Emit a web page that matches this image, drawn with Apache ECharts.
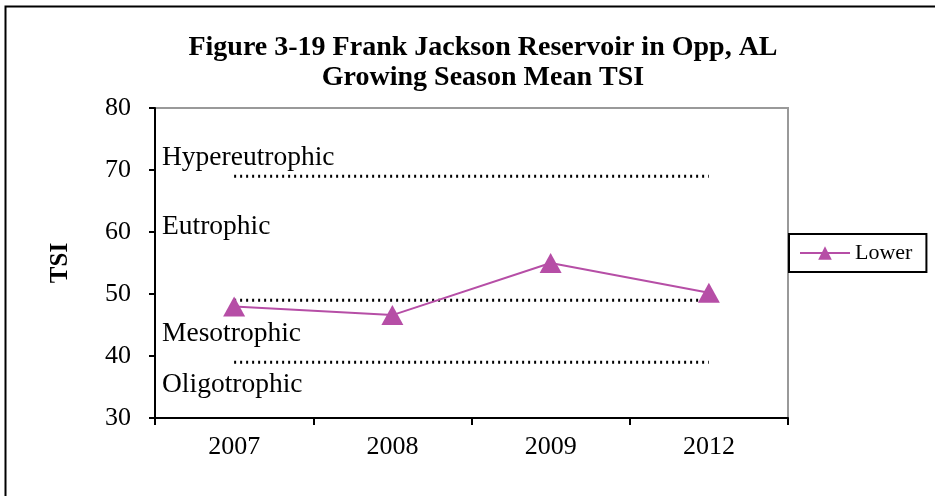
<!DOCTYPE html>
<html>
<head>
<meta charset="utf-8">
<script src="https://cdn.jsdelivr.net/npm/echarts@6/dist/echarts.min.js"></script>
<style>
  html, body { margin: 0; padding: 0; background: #fff; }
  #chart { width: 935px; height: 496px; }
</style>
</head>
<body>
<div id="chart"></div>
<script>
// data
var years = ['2007', '2008', '2009', '2012'];
var lowerTSI = [48.0, 46.6, 55.0, 50.2];
// trophic boundaries (dotted lines)
var boundaries = [69, 49, 39];
var zoneNames = ['Hypereutrophic', 'Eutrophic', 'Mesotrophic', 'Oligotrophic'];
var zoneTops = [144, 213, 320, 371];

var serif = '"Liberation Serif", "DejaVu Serif", serif';

var series = [];
boundaries.forEach(function (b) {
    series.push({
        type: 'line',
        data: years.map(function () { return b; }),
        symbol: 'none',
        silent: true,
        lineStyle: { color: '#000', width: 3, type: [2, 4] },
        z: 1
    });
});
series.push({
    name: 'Lower',
    type: 'line',
    data: lowerTSI,
    symbol: 'triangle',
    symbolSize: [22, 20],
    itemStyle: { color: '#b64ea6' },
    lineStyle: { color: '#b64ea6', width: 2 },
    z: 3
});

var graphics = [
    { type: 'rect', left: 3, top: 4, shape: { width: 940, height: 500 },
      style: { fill: 'none', stroke: '#000', lineWidth: 2 }, silent: true }
];
zoneNames.forEach(function (n, i) {
    graphics.push({
        type: 'text', left: 162, top: zoneTops[i],
        style: { text: n, font: '27.5px ' + serif, fill: '#000' }
    });
});

var chart = echarts.init(document.getElementById('chart'));
chart.setOption({
    animation: false,
    title: {
        text: 'Figure 3-19 Frank Jackson Reservoir in Opp, AL\nGrowing Season Mean TSI',
        left: 478, textAlign: 'center', top: 28,
        textStyle: { fontFamily: serif, fontWeight: 'bold', fontSize: 28, lineHeight: 30, color: '#000' }
    },
    legend: {
        data: ['Lower'],
        left: 789, top: 234,
        orient: 'vertical',
        padding: [8, 14, 8, 10],
        itemWidth: 50, itemHeight: 17,
        borderColor: '#000', borderWidth: 2,
        textStyle: { fontFamily: serif, fontSize: 22, color: '#000' }
    },
    grid: {
        left: 155, right: 147, top: 108, bottom: 78,
        show: true, borderColor: '#999', borderWidth: 2
    },
    xAxis: {
        type: 'category',
        data: years,
        boundaryGap: true,
        axisLine: { lineStyle: { color: '#000', width: 2 } },
        axisTick: { show: true, length: 7, lineStyle: { color: '#000', width: 2 } },
        axisLabel: { fontFamily: serif, fontSize: 26, color: '#000', margin: 16 }
    },
    yAxis: {
        type: 'value',
        min: 30, max: 80, interval: 10,
        name: 'TSI', nameLocation: 'middle', nameGap: 82,
        nameTextStyle: { fontFamily: serif, fontWeight: 'bold', fontSize: 25, color: '#000' },
        axisLine: { show: true, lineStyle: { color: '#000', width: 2 } },
        axisTick: { show: true, length: 6, lineStyle: { color: '#000', width: 2 } },
        splitLine: { show: false },
        axisLabel: { fontFamily: serif, fontSize: 26, color: '#000', margin: 24 }
    },
    graphic: graphics,
    series: series
});
</script>
</body>
</html>
